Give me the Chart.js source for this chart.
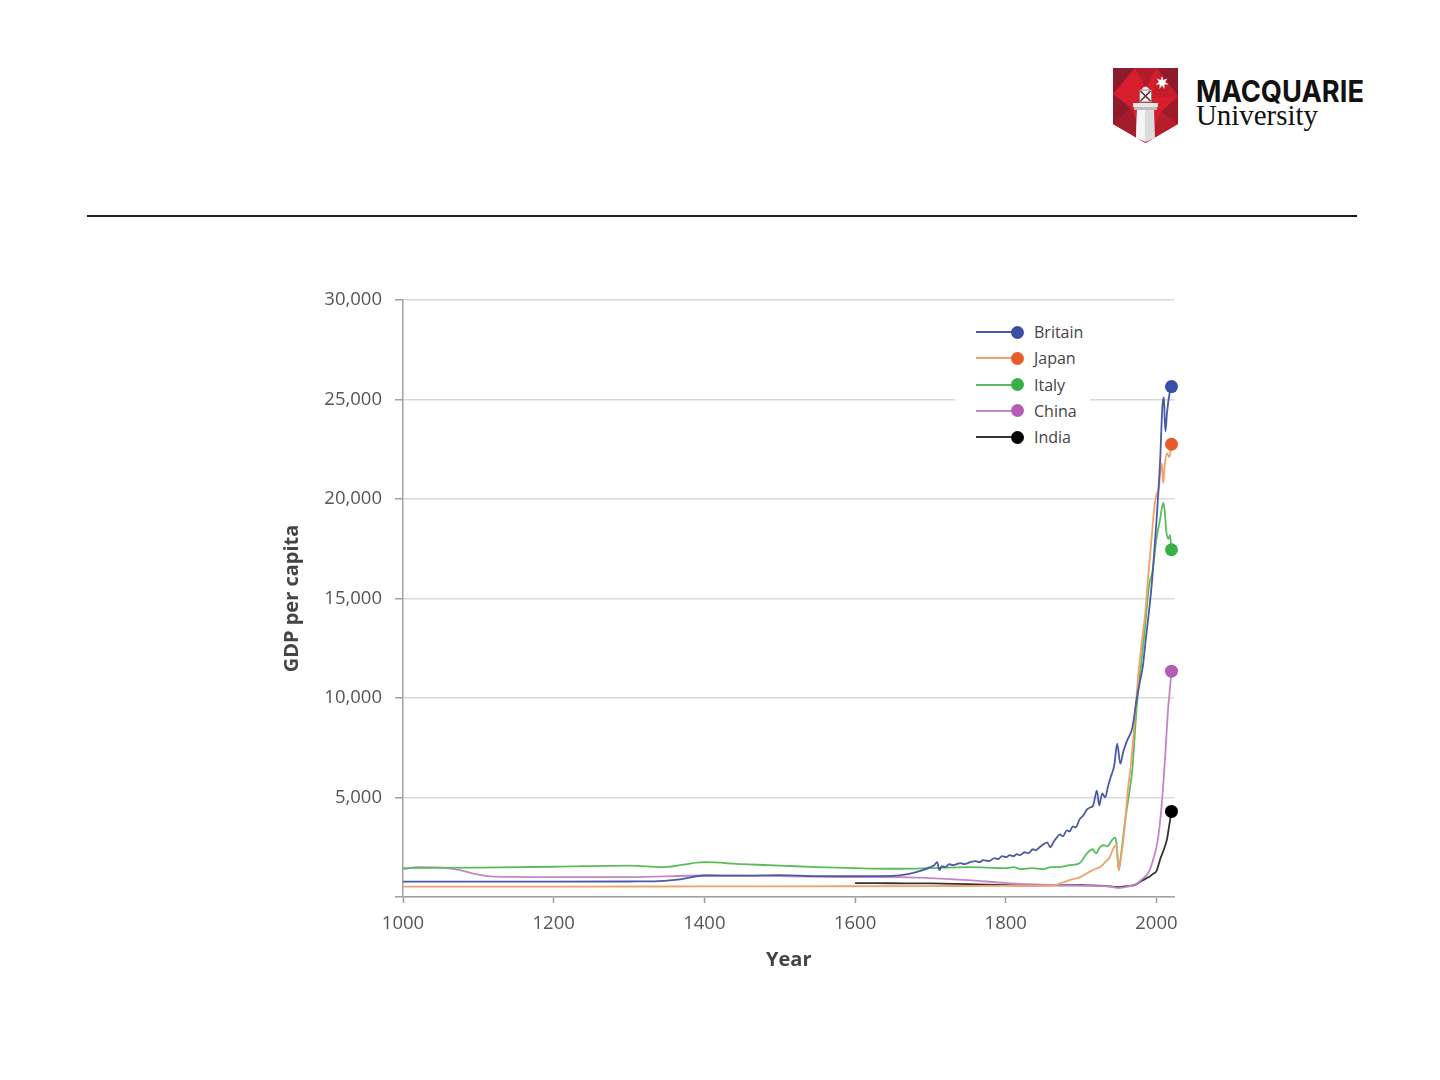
<!DOCTYPE html>
<html>
<head>
<meta charset="utf-8">
<script src="https://cdn.jsdelivr.net/npm/chart.js@4.4.1/dist/chart.umd.min.js"></script>
<style>
  html, body { margin: 0; padding: 0; background: #ffffff; }
  body { width: 1440px; height: 1080px; position: relative; overflow: hidden; font-family: 'Open Sans', sans-serif; }
  #rule { position: absolute; left: 87px; top: 215px; width: 1270px; height: 2px; background: #1b1b1b; }
  #wrap { position: absolute; left: 270px; top: 270px; width: 930px; height: 720px; }
  #legend { position: absolute; left: 955px; top: 319px; width: 135px; background: #ffffff; font-family: 'Open Sans', sans-serif; font-size: 16px; color: #444; }
  .row { position: relative; height: 26.25px; }
  .row .ln { position: absolute; left: 21px; top: 12px; width: 36px; height: 2px; }
  .row .dot { position: absolute; left: 55.5px; top: 6.5px; width: 13px; height: 13px; border-radius: 50%; }
  .row .lab { position: absolute; left: 79px; top: 0; line-height: 26px; white-space: nowrap; }
  #logo { position: absolute; left: 1110px; top: 64px; }
</style>
</head>
<body>
<svg id="logo" width="260" height="84" viewBox="0 0 260 84">
  <g transform="translate(3,4)">
    <path d="M0 0 H65 V56 L32.5 75 L0 56 Z" fill="#d81e2c"/>
    <path d="M0 0 L22 0 L0 26 Z" fill="#8d1b2b"/>
    <path d="M22 0 L44 0 L33 20 Z" fill="#b11c2c"/>
    <path d="M44 0 L65 0 L65 28 Z" fill="#8d1b2b"/>
    <path d="M44 0 L65 28 L40 30 Z" fill="#c41d2c"/>
    <path d="M0 26 L18 40 L0 56 Z" fill="#8d1b2b"/>
    <path d="M65 28 L65 56 L48 44 Z" fill="#9e1b2b"/>
    <path d="M0 56 L18 40 L32.5 75 Z" fill="#a21c2b"/>
    <path d="M48 44 L65 56 L32.5 75 Z" fill="#b81d2c"/>
    <polygon points="49,8 50.3,12 54.5,10.5 52,14 55.5,16.5 51.3,16.5 51.5,21 49,17.5 46.5,21 46.7,16.5 42.5,16.5 46,14 43.5,10.5 47.7,12" fill="#ffffff"/>
    <path d="M28 22 Q32.5 15 37 22 Z" fill="#f2f2f2"/>
    <rect x="26.5" y="22" width="12" height="12" fill="#f4f4f4" stroke="#7a7a7a" stroke-width="0.8"/>
    <path d="M27.5 23 L37.5 33 M37.5 23 L27.5 33" stroke="#6a2a2a" stroke-width="1.6"/>
    <rect x="20" y="35" width="25" height="4" fill="#e8e8e8"/>
    <rect x="21" y="39" width="23" height="3" fill="#bdbdbd"/>
    <path d="M24 42 H41 L42 70 L32.5 74 L23 70 Z" fill="#dcdcdc"/>
    <path d="M24 42 H32 V73 L23 70 Z" fill="#f5f5f5"/>
  </g>
  <text x="86" y="38" font-family="Inter, Roboto, sans-serif" font-weight="700" font-size="30" textLength="168" lengthAdjust="spacingAndGlyphs" fill="#111111">MACQUARIE</text>
  <text x="86" y="61" font-family="'Liberation Serif', 'DejaVu Serif', serif" font-size="29" textLength="122" lengthAdjust="spacingAndGlyphs" fill="#111111">University</text>
</svg>
<div id="rule"></div>
<div id="wrap"><canvas id="chart"></canvas></div>
<div id="legend"></div>

<script>
// ---- Data ----
const seriesNames = ['Britain', 'Japan', 'Italy', 'China', 'India'];

const britainYears = [1000,1100,1200,1300,1340,1370,1400,1450,1500,1550,1600,1650,1670,1690,1700,1705,1709,1712,1715,1720,1725,1730,1740,1745,1753,1760,1765,1770,1778,1785,1790,1795,1801,1805,1810,1815,1819,1825,1830,1836,1840,1845,1850,1855,1859,1864,1868,1872,1876,1881,1885,1889,1893,1898,1903,1908,1912,1916,1921,1924,1928,1932,1936,1940,1944,1948,1952,1956,1961,1968,1974,1978,1982,1986,1990,1994,1998,2001,2005,2008,2010,2011,2012,2014,2017,2020];
const britainGdp   = [770,770,770,780,800,900,1080,1070,1100,1050,1050,1060,1150,1350,1500,1600,1750,1350,1550,1500,1650,1600,1700,1650,1750,1800,1750,1850,1800,1950,1900,2050,2000,2100,2050,2150,2100,2250,2200,2400,2350,2500,2650,2750,2500,2800,3000,3150,3050,3350,3300,3550,3500,3900,4100,4400,4500,4600,5350,4600,5200,5000,5600,6100,6600,7700,6700,7300,7850,8500,10000,10800,11600,13000,14300,15800,17800,19400,22000,24700,25100,24000,23400,24300,25200,25650];

const japanYears = [1000,1200,1400,1600,1700,1800,1850,1863,1872,1881,1890,1899,1908,1918,1925,1932,1938,1943,1947,1950,1953,1956,1959,1962,1966,1969,1973,1976,1980,1985,1990,1994,1997,2000,2003,2007,2009,2011,2014,2017,2020];
const japanGdp   = [520,520,530,540,550,560,560,580,680,800,900,1000,1200,1400,1500,1750,2000,2450,2600,1350,2000,2850,4000,5350,6600,7850,9800,11200,12600,14200,16500,18200,19500,20200,20500,21800,20800,21700,22300,22100,22750];

const italyYears = [1000,1100,1200,1300,1345,1400,1450,1500,1550,1600,1650,1700,1750,1801,1810,1820,1835,1850,1860,1870,1885,1898,1908,1915,1920,1925,1930,1935,1940,1945,1947,1950,1953,1958,1963,1968,1974,1980,1985,1990,1995,2000,2005,2009,2011,2013,2016,2018,2020];
const italyGdp   = [1450,1480,1520,1580,1500,1750,1650,1580,1500,1450,1420,1450,1500,1450,1500,1400,1450,1400,1500,1500,1600,1700,2200,2400,2200,2500,2600,2550,2800,3000,2700,1350,2100,3700,5000,6400,9600,11800,13600,15600,16400,18000,19000,19800,19400,18400,18000,18200,17450];

const chinaYears = [1000,1020,1050,1075,1100,1120,1200,1300,1400,1500,1600,1656,1700,1750,1801,1850,1900,1940,1950,1956,1962,1969,1975,1981,1987,1991,1995,2000,2003,2006,2009,2012,2015,2018,2020];
const chinaGdp   = [1400,1500,1480,1350,1120,1020,1000,1000,1080,1050,1000,1000,950,850,700,620,560,520,450,480,520,600,700,900,1100,1350,1800,2500,3200,4200,5600,7300,9200,10500,11350];

const indiaYears = [1600,1650,1700,1750,1800,1850,1900,1930,1950,1960,1970,1982,1990,1995,2000,2005,2010,2014,2017,2020];
const indiaGdp   = [700,690,680,650,600,580,600,560,500,550,580,850,1000,1150,1300,1900,2400,2900,3600,4300];

const xTickValues = [1000, 1200, 1400, 1600, 1800, 2000];
const yTickValues = [0, 5000, 10000, 15000, 20000, 25000, 30000];

// ---- Styles ----
const lineColors   = ['#4a5aa6', '#f2a06c', '#58bd5a', '#c287c6', '#333333'];
const markerColors = ['#3a4ea3', '#e75b28', '#3aae48', '#b45cb6', '#000000'];
const FONT = "'Open Sans', sans-serif";

const allYears = [britainYears, japanYears, italyYears, chinaYears, indiaYears];
const allGdp   = [britainGdp, japanGdp, italyGdp, chinaGdp, indiaGdp];

const datasets = seriesNames.map((name, k) => {
  const yrs = allYears[k], vals = allGdp[k];
  const last = yrs.length - 1;
  return {
    label: name,
    data: yrs.map((yr, i) => ({ x: yr, y: vals[i] })),
    borderColor: lineColors[k],
    borderWidth: 1.8,
    cubicInterpolationMode: 'monotone',
    pointRadius: yrs.map((_, i) => i === last ? 6.5 : 0),
    pointBackgroundColor: markerColors[k],
    pointBorderColor: markerColors[k],
    pointBorderWidth: 0,
    pointHoverRadius: 0,
    fill: false,
    clip: false
  };
});

// ---- HTML legend ----
const legendEl = document.getElementById('legend');
seriesNames.forEach((name, k) => {
  const row = document.createElement('div');
  row.className = 'row';
  const ln = document.createElement('span'); ln.className = 'ln'; ln.style.background = lineColors[k];
  const dot = document.createElement('span'); dot.className = 'dot'; dot.style.background = markerColors[k];
  const lab = document.createElement('span'); lab.className = 'lab'; lab.textContent = name;
  row.appendChild(ln); row.appendChild(dot); row.appendChild(lab);
  legendEl.appendChild(row);
});

new Chart(document.getElementById('chart'), {
  type: 'line',
  data: { datasets },
  options: {
    responsive: true,
    maintainAspectRatio: false,
    animation: false,
    events: [],
    layout: { padding: { top: 30, right: 25.5, left: 0, bottom: 0 } },
    plugins: { legend: { display: false }, tooltip: { enabled: false } },
    scales: {
      x: {
        type: 'linear',
        min: 1000,
        max: 2024,
        afterBuildTicks: s => { s.ticks = xTickValues.map(v => ({ value: v })); },
        afterFit: s => { s.height = 93; },
        grid: { display: true, drawOnChartArea: false, drawTicks: true, tickLength: 6, tickColor: '#9a9a9a', tickWidth: 1.5 },
        border: { display: true, color: '#a0a0a0', width: 1.5 },
        ticks: { font: { family: FONT, size: 18.5 }, color: '#555555', padding: 10, maxRotation: 0, autoSkip: false, callback: v => String(v) },
        title: { display: true, text: 'Year', font: { family: FONT, size: 20, weight: 'bold' }, color: '#444444', padding: { top: 0, bottom: 18 } }
      },
      y: {
        type: 'linear',
        min: 0,
        max: 30000,
        afterBuildTicks: s => { s.ticks = yTickValues.map(v => ({ value: v })); },
        afterFit: s => { s.width = 133; },
        grid: { color: '#d9d9d9', lineWidth: 1.5, drawTicks: true, tickLength: 8, tickColor: '#a0a0a0', tickWidth: 1.5 },
        border: { display: true, color: '#a0a0a0', width: 1.5 },
        ticks: { font: { family: FONT, size: 18.5 }, color: '#555555', padding: 13, autoSkip: false, callback: v => v === 0 ? '' : v.toLocaleString('en-US') },
        title: { display: true, text: 'GDP per capita', font: { family: FONT, size: 20, weight: 'bold' }, color: '#444444', padding: { top: 10, bottom: 0 } }
      }
    }
  }
});
</script>
</body>
</html>
